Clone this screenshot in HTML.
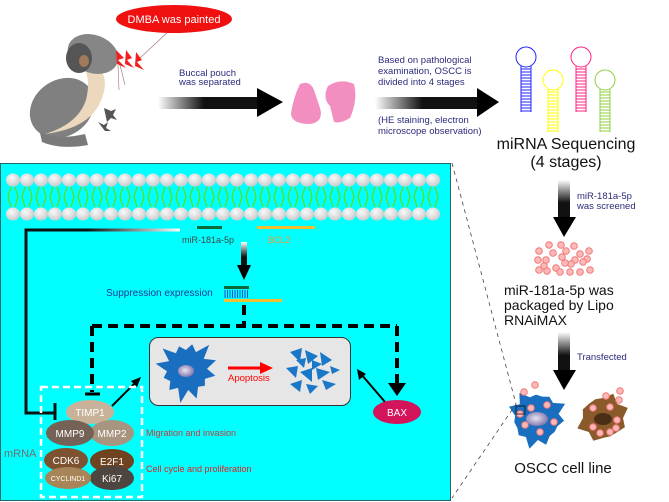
<!DOCTYPE html>
<html><head><meta charset="utf-8"><style>
html,body{margin:0;padding:0;background:#fff}
svg{display:block;font-family:"Liberation Sans",Arial,sans-serif}
</style></head><body>
<svg id="s" width="669" height="502" viewBox="0 0 669 502" xmlns="http://www.w3.org/2000/svg">
<defs>
<linearGradient id="gh" x1="0" x2="1" y1="0" y2="0"><stop offset="0" stop-color="#fff"/><stop offset="0.45" stop-color="#111"/><stop offset="1" stop-color="#111"/></linearGradient>
<linearGradient id="gv" x1="0" x2="0" y1="0" y2="1"><stop offset="0" stop-color="#fff"/><stop offset="0.6" stop-color="#111"/><stop offset="1" stop-color="#111"/></linearGradient>
<linearGradient id="gl" x1="0" x2="1" y1="0" y2="0"><stop offset="0" stop-color="#111"/><stop offset="0.4" stop-color="#111"/><stop offset="1" stop-color="#fff"/></linearGradient>
<radialGradient id="mem" cx="0.4" cy="0.35" r="0.7"><stop offset="0" stop-color="#fafafa"/><stop offset="1" stop-color="#c8c8c8"/></radialGradient>
<radialGradient id="nuc" cx="0.45" cy="0.45" r="0.6"><stop offset="0" stop-color="#e8e4f4"/><stop offset="1" stop-color="#7a70a8"/></radialGradient>
</defs>

<!-- Mouse -->
<g>
<ellipse cx="62" cy="108" rx="34" ry="28" fill="#808080" transform="rotate(-35 62 108)"/>
<path d="M40 133 Q60 140 85 134 L88 145 Q60 150 42 142 Z" fill="#7a7a7a"/>
<path d="M96 66 Q110 76 102 98 Q92 128 45 134 Q78 124 86 100 Q90 84 86 72 Z" fill="#ecd9bd"/>
<ellipse cx="93" cy="54" rx="26" ry="19" fill="#868686" transform="rotate(20 93 54)"/>
<ellipse cx="79" cy="58" rx="13" ry="15" fill="#555"/>
<ellipse cx="84" cy="61" rx="5" ry="6" fill="#a07a5a"/>
<path d="M104 108 l7 3 l5 -2 l-3 6 l4 5 l-6 -2 l-4 4 z" fill="#555"/>
<path d="M98 122 l6 3 l4 -3 l-2 6 l5 3 l-6 0 z" fill="#555"/>
<path d="M116 50 l8 8 l-6 2 l8 8 l-9 -4 z M126 50 l6 8 l-5 2 l7 8 l-9 -4 z M136 52 l6 8 l-5 2 l7 8 l-9 -4 z" fill="#f02020"/>
<path d="M118 65 L119 90 M120 65 L125 85 M140 58 L170 30" stroke="#a07070" stroke-width="0.6" fill="none"/>
</g>
<ellipse cx="174" cy="19" rx="58" ry="14" fill="#f01010"/>
<text x="174" y="23" font-size="11" fill="#fff" text-anchor="middle">DMBA was painted</text>

<!-- arrow 1 -->
<rect x="158" y="97" width="102" height="12" fill="url(#gh)"/>
<path d="M257 88 L283 102 L257 117 Z" fill="#000"/>
<text x="179" y="76" font-size="9.5" fill="#2b2b7a">Buccal pouch</text>
<text x="179" y="85" font-size="9.5" fill="#2b2b7a">was separated</text>
<path d="M300 84 Q310 80 314 90 L320 108 Q324 122 310 124 Q292 124 291 114 Q293 98 300 84 Z" fill="#f28fc0"/>
<path d="M328 86 Q340 78 354 84 Q358 100 350 118 Q340 124 334 122 L330 106 Q322 98 328 86 Z" fill="#f28fc0"/>

<!-- arrow 2 -->
<rect x="375" y="97" width="105" height="12" fill="url(#gh)"/>
<path d="M477 88 L499 102 L477 117 Z" fill="#000"/>
<text font-size="9.5" fill="#2b2b7a"><tspan x="378" y="63">Based on pathological</tspan><tspan x="378" y="74">examination, OSCC is</tspan><tspan x="378" y="85">divided into 4 stages</tspan><tspan x="378" y="123">(HE staining, electron</tspan><tspan x="378" y="134">microscope observation)</tspan></text>

<g id="hp" fill="none" stroke-width="1"></g>
<text x="566" y="149" font-size="16" text-anchor="middle" fill="#111">miRNA Sequencing</text>
<text x="566" y="167" font-size="16" text-anchor="middle" fill="#111">(4 stages)</text>

<rect x="558" y="180" width="12" height="38" fill="url(#gv)"/>
<path d="M553 217 L576 217 L564 237 Z" fill="#000"/>
<text font-size="9.5" fill="#2b2b7a"><tspan x="577" y="199">miR-181a-5p</tspan><tspan x="577" y="209">was screened</tspan></text>
<g id="dots" fill="#ffb8b8" stroke="#f07878" stroke-width="1"></g>
<text font-size="14" fill="#111"><tspan x="504" y="295">miR-181a-5p was</tspan><tspan x="504" y="310">packaged by Lipo</tspan><tspan x="504" y="325">RNAiMAX</tspan></text>
<rect x="558" y="332" width="12" height="39" fill="url(#gv)"/>
<path d="M553 370 L576 370 L564 390 Z" fill="#000"/>
<text x="577" y="360" font-size="9.5" fill="#2b2b7a">Transfected</text>
<g id="cells"></g>
<text x="563" y="473" font-size="15" text-anchor="middle" fill="#111">OSCC cell line</text>

<path d="M452 163 L516 404 L452 498" stroke="#444" stroke-width="0.8" stroke-dasharray="4 4" fill="none"/>
<rect x="516" y="406" width="9" height="8" fill="none" stroke="#111" stroke-width="0.8"/>

<rect x="0.5" y="163.5" width="450" height="337" fill="#00ffff" stroke="#1a6a6a" stroke-width="1"/>
<g id="memb"></g>

<path d="M26 413 L26 230 L180 230" stroke="url(#gl)" stroke-width="3" fill="none"/>
<path d="M26 230 L26 413 L55 413" stroke="#111" stroke-width="3" fill="none"/>
<rect x="24.5" y="228.5" width="3" height="3" fill="#111"/>
<line x1="55" y1="403" x2="55" y2="420" stroke="#111" stroke-width="3"/>
<rect x="197" y="226" width="25" height="3" fill="#0a6a3a"/>
<rect x="257" y="226" width="58" height="3" fill="#f0c030"/>
<text x="182" y="243" font-size="9" fill="#444">miR-181a-5p</text>
<text x="268" y="243" font-size="9" fill="#f09a30">BCL2</text>
<rect x="241" y="242" width="6" height="25" fill="url(#gv)"/>
<path d="M237 265 L251 265 L244 280 Z" fill="#000"/>
<text x="106" y="296" font-size="10" fill="#1a3a9a">Suppression expression</text>
<rect x="224" y="286" width="25" height="3" fill="#0a6a3a"/>
<g id="comb" stroke="#1a50d0" stroke-width="1"></g>
<rect x="224" y="299" width="58" height="3" fill="#f0c030"/>

<path d="M244 305 L244 326 M92 326 L397 326 M92 326 L92 392 M397 326 L397 383" stroke="#000" stroke-width="4" stroke-dasharray="10 6" fill="none"/>
<line x1="85" y1="394" x2="100" y2="394" stroke="#000" stroke-width="3"/>
<path d="M388 383 L406 383 L397 396 Z" fill="#000"/>

<rect x="149.5" y="337.5" width="201" height="68" rx="9" fill="#e6e6e6" stroke="#333" stroke-width="1"/>
<g id="cellA"></g>
<ellipse cx="186" cy="371" rx="8" ry="6" fill="url(#nuc)"/>
<line x1="228" y1="368" x2="262" y2="368" stroke="#f00" stroke-width="3"/>
<path d="M260 362 L273 368 L260 374 Z" fill="#f00"/>
<text x="228" y="381" font-size="9.5" fill="#f00">Apoptosis</text>
<g id="frag" fill="#1a78c8"></g>

<line x1="112" y1="406" x2="137" y2="381" stroke="#000" stroke-width="2"/>
<path d="M141 377 L131 381 L137 387 Z" fill="#000"/>
<line x1="385" y1="402" x2="361" y2="374" stroke="#000" stroke-width="2"/>
<path d="M357 369 L359 380 L366 374 Z" fill="#000"/>
<ellipse cx="397" cy="412" rx="24" ry="12" fill="#d3135a"/>
<text x="397" y="416" font-size="10" fill="#fff" text-anchor="middle">BAX</text>

<rect x="41" y="387" width="101" height="110" fill="none" stroke="#fff" stroke-width="2.5" stroke-dasharray="7 4"/>
<ellipse cx="90" cy="412" rx="24" ry="12" fill="#c8b39a"/>
<text x="90" y="416" font-size="10" fill="#fff" text-anchor="middle">TIMP1</text>
<ellipse cx="112" cy="433" rx="22" ry="13" fill="#a89580"/>
<ellipse cx="70" cy="433" rx="24" ry="13" fill="#756257"/>
<text x="70" y="437" font-size="10" fill="#fff" text-anchor="middle">MMP9</text>
<text x="112" y="437" font-size="10" fill="#fff" text-anchor="middle">MMP2</text>
<ellipse cx="112" cy="461" rx="22" ry="12" fill="#6f4220"/>
<ellipse cx="66" cy="460" rx="22" ry="12" fill="#7d5230"/>
<text x="66" y="464" font-size="10" fill="#fff" text-anchor="middle">CDK6</text>
<text x="112" y="465" font-size="10" fill="#fff" text-anchor="middle">E2F1</text>
<ellipse cx="112" cy="478" rx="22" ry="12" fill="#4e4440"/>
<ellipse cx="68" cy="478" rx="23" ry="11" fill="#a88558"/>
<text x="68" y="481" font-size="7" fill="#fff" text-anchor="middle">CYCLIND1</text>
<text x="112" y="482" font-size="10" fill="#fff" text-anchor="middle">Ki67</text>
<text x="146" y="436" font-size="9" fill="#c83a3a">Migration and invasion</text>
<text x="146" y="472" font-size="9" fill="#e02020">Cell cycle and proliferation</text>
<text x="4" y="457" font-size="11" fill="#707070">mRNA</text>
</svg>
<script>
var NS="http://www.w3.org/2000/svg";
function el(p,t,a){var e=document.createElementNS(NS,t);for(var k in a)e.setAttribute(k,a[k]);document.getElementById(p).appendChild(e);return e;}
function star(cx,cy,R,r,n,rot){var s="";for(var i=0;i<2*n;i++){var a=rot+i*Math.PI/n;var rr=i%2?r:R*(0.85+0.15*Math.sin(i*2.3));s+=(cx+rr*Math.cos(a)).toFixed(1)+","+(cy+rr*Math.sin(a)).toFixed(1)+" ";}return s;}
for(var x=13;x<445;x+=14){
 el("memb","path",{d:"M"+(x-2)+" 187 L"+(x-5)+" 197 L"+(x-2)+" 207 M"+(x+2)+" 187 L"+(x+5)+" 197 L"+(x+2)+" 207",stroke:"#66dd00",fill:"none","stroke-width":"1.2"});
 el("memb","ellipse",{cx:x,cy:180,rx:7,ry:6.5,fill:"url(#mem)"});
 el("memb","ellipse",{cx:x,cy:214,rx:7,ry:6.5,fill:"url(#mem)"});
}
[[526,57,112,"#2020ff"],[553,80,132,"#ffff00"],[581,57,112,"#ff2080"],[605,80,132,"#90d040"]].forEach(function(h){
 el("hp","circle",{cx:h[0],cy:h[1],r:10,stroke:h[3]});
 el("hp","path",{d:"M"+(h[0]-5)+" "+(h[1]+9)+" L"+(h[0]-5)+" "+h[2]+" M"+(h[0]+5)+" "+(h[1]+9)+" L"+(h[0]+5)+" "+h[2],stroke:h[3]});
 for(var y=h[1]+12;y<=h[2];y+=3)el("hp","line",{x1:h[0]-5,x2:h[0]+5,y1:y,y2:y,stroke:h[3]});
});
[[549,245],[561,245],[574,246],[539,251],[553,253],[566,251],[580,254],[589,251],[538,260],[546,260],[562,257],[575,260],[587,259],[544,266],[556,268],[571,264],[583,262],[539,270],[547,271],[560,272],[570,272],[580,272],[590,270],[565,263]].forEach(function(d){el("dots","circle",{cx:d[0],cy:d[1],r:3.3});});
for(var x=225;x<=248;x+=2.5)el("comb","line",{x1:x,x2:x,y1:290,y2:298});
el("cellA","polygon",{points:star(187,370,34,20,12,0.2),fill:"#1a6ec0"});
el("cells","polygon",{points:star(537,418,32,22,11,0.1),fill:"#1a6ec0"});
el("cells","polygon",{points:star(603,418,28,20,8,0.4),fill:"#8a5a2a"});
el("cells","ellipse",{cx:537,cy:419,rx:11,ry:7,fill:"url(#nuc)"});
el("cells","ellipse",{cx:603,cy:419,rx:9,ry:6,fill:"#4a2e16"});
[[524,392],[535,385],[531,408],[547,405],[525,425],[554,422],[540,432],[520,414],[593,408],[610,407],[617,420],[616,428],[593,427],[600,433],[610,432],[606,396],[620,391],[619,400]].forEach(function(d){el("cells","circle",{cx:d[0],cy:d[1],r:3.3,fill:"#ffb8b8",stroke:"#f07878"});});
var fr=[[290,352,302,348,300,362],[305,350,318,356,308,364],[320,352,332,360,322,366],[286,368,298,366,296,378],[300,372,312,368,312,382],[316,368,330,372,318,380],[290,384,302,380,300,392],[306,384,318,386,310,394],[322,380,336,384,326,390],[296,360,306,358,304,368],[312,360,322,364,312,370],[330,366,340,370,332,374]];
fr.forEach(function(p){el("frag","polygon",{points:p.join(",")});});
</script>
</body></html>
